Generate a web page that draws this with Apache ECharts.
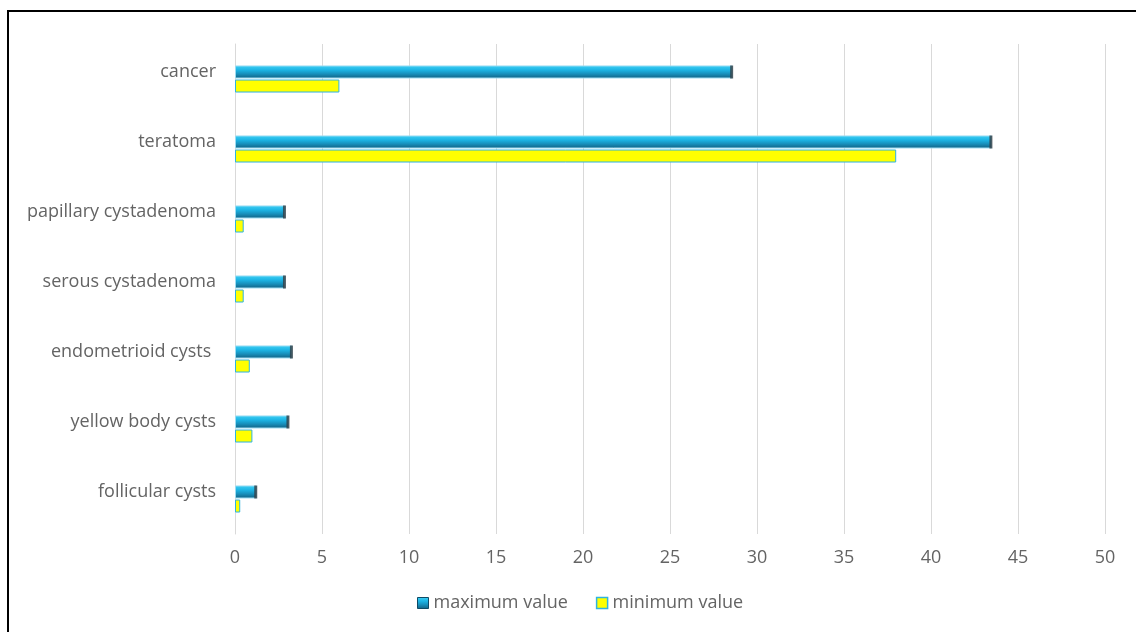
<!DOCTYPE html>
<html>
<head>
<meta charset="utf-8">
<script src="https://cdn.jsdelivr.net/npm/echarts@6/dist/echarts.min.js"></script>
<style>
  html, body { margin: 0; padding: 0; background: #fff; }
  #chart { width: 1136px; height: 632px; }
</style>
</head>
<body>
<div id="chart"></div>
<script>
// categories, top to bottom
var categories = ['cancer', 'teratoma', 'papillary cystadenoma', 'serous cystadenoma',
    'endometrioid cysts ', 'yellow body cysts', 'follicular cysts'];
var maxValues = [28.6, 43.5, 2.9, 2.9, 3.3, 3.1, 1.25];
var minValues = [6.0, 38.0, 0.5, 0.5, 0.85, 1.0, 0.3];
var seriesNames = ['maximum value', 'minimum value'];

var chart = echarts.init(document.getElementById('chart'));

var blueFill = new echarts.graphic.LinearGradient(0, 0, 0, 1, [
    { offset: 0, color: '#3fd0f5' },
    { offset: 0.35, color: '#1cb4e4' },
    { offset: 0.65, color: '#178fbb' },
    { offset: 1, color: '#125f80' }
]);

chart.setOption({
    textStyle: { fontFamily: '"Open Sans", "Noto Sans", sans-serif' },
    animation: false,
    graphic: [{
        type: 'rect',
        shape: { x: 8, y: 11, width: 1140, height: 630 },
        style: { fill: 'none', stroke: '#000', lineWidth: 2 },
        silent: true
    }],
    grid: {
        left: 235,
        right: 31,
        top: 44,
        height: 490,
        containLabel: false
    },
    legend: {
        bottom: 15,
        left: 412,
        itemWidth: 11,
        itemHeight: 11,
        itemGap: 28,
        textStyle: { color: '#646464', fontSize: 18 },
        data: [
            { name: seriesNames[0], icon: 'rect', itemStyle: { color: blueFill, borderColor: '#0d4a66', borderWidth: 1 } },
            { name: seriesNames[1], icon: 'rect', itemStyle: { color: '#ffff00', borderColor: '#2fb3e0', borderWidth: 1.5 } }
        ]
    },
    xAxis: {
        type: 'value',
        min: 0,
        max: 50,
        interval: 5,
        axisLine: { show: false },
        axisTick: { show: false },
        axisLabel: { color: '#646464', fontSize: 18, margin: 15 },
        splitLine: { lineStyle: { color: '#d9d9d9' } }
    },
    yAxis: {
        type: 'category',
        inverse: true,
        data: categories,
        axisLine: { lineStyle: { color: '#d9d9d9' } },
        axisTick: { show: false },
        axisLabel: { color: '#646464', fontSize: 18, margin: 19, verticalAlign: 'bottom', lineHeight: 15 }
    },
    series: [
        {
            name: seriesNames[0],
            type: 'bar',
            data: maxValues,
            barWidth: 13,
            barGap: '8%',
            itemStyle: { color: blueFill, borderColor: '#9adcf2', borderWidth: 1 }
        },
        {
            name: seriesNames[1],
            type: 'bar',
            data: minValues,
            barWidth: 13,
            itemStyle: { color: '#ffff00', borderColor: '#2fb3e0', borderWidth: 1 }
        },
        {
            // dark end caps of the maximum bars
            name: seriesNames[0],
            type: 'scatter',
            data: maxValues.map(function (v, i) { return [v, i]; }),
            symbol: 'rect',
            symbolSize: [3, 13],
            symbolOffset: [-1, -7],
            itemStyle: { color: '#333d44' },
            silent: true,
            z: 3
        }
    ]
});
</script>
</body>
</html>
